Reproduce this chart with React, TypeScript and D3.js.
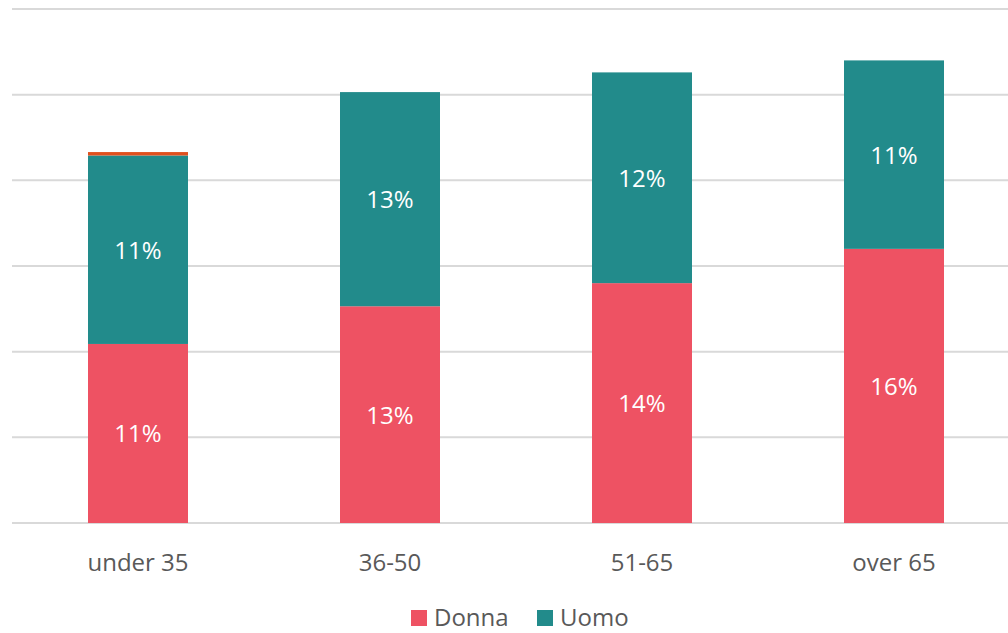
import React from "react";
import * as d3 from "d3";

const categories = ["under 35", "36-50", "51-65", "over 65"];
const donna = [10.45, 12.65, 14.0, 16.0];
const uomo = [11.0, 12.5, 12.3, 11.0];
const altro = [0.2, 0, 0, 0];
const donnaLabels = ["11%", "13%", "14%", "16%"];
const uomoLabels = ["11%", "13%", "12%", "11%"];
const yTicks = [0, 5, 10, 15, 20, 25, 30];

const W = 1008;
const H = 633;
const FONT = "'Open Sans', sans-serif";
const C_DONNA = "#EE5263";
const C_UOMO = "#228B8B";
const C_ALTRO = "#E0501E";

export default function App() {
  const x = d3
    .scaleBand<string>()
    .domain(categories)
    .range([12, 1020])
    .paddingInner(0.6032)
    .paddingOuter(0.3016);
  const y = d3.scaleLinear().domain([0, 30]).range([523, 9]);
  const bw = x.bandwidth();

  return (
    <div style={{ position: "fixed", left: 0, top: 0 }}>
      <svg width={W} height={H} style={{ display: "block", background: "#fff" }}>
        {yTicks.map((t) => (
          <line
            key={t}
            x1={12}
            x2={W}
            y1={y(t)}
            y2={y(t)}
            stroke="#d9d9d9"
            strokeWidth={2}
          />
        ))}
        {categories.map((c, i) => {
          const x0 = x(c)!;
          const d0 = y(0);
          const d1 = y(donna[i]);
          const u1 = y(donna[i] + uomo[i]);
          const a1 = y(donna[i] + uomo[i] + altro[i]);
          return (
            <g key={c}>
              <rect x={x0} y={d1} width={bw} height={d0 - d1} fill={C_DONNA} />
              <rect x={x0} y={u1} width={bw} height={d1 - u1} fill={C_UOMO} />
              {altro[i] > 0 && (
                <rect x={x0} y={a1} width={bw} height={u1 - a1} fill={C_ALTRO} />
              )}
              <text
                x={x0 + bw / 2}
                y={(d0 + d1) / 2 + 9}
                textAnchor="middle"
                fill="#fff"
                fontFamily={FONT}
                fontSize={24}
              >
                {donnaLabels[i]}
              </text>
              <text
                x={x0 + bw / 2}
                y={(d1 + u1) / 2 + 9}
                textAnchor="middle"
                fill="#fff"
                fontFamily={FONT}
                fontSize={24}
              >
                {uomoLabels[i]}
              </text>
              <text
                x={x0 + bw / 2}
                y={571}
                textAnchor="middle"
                fill="#595959"
                fontFamily={FONT}
                fontSize={24}
              >
                {c}
              </text>
            </g>
          );
        })}
        <g fontFamily={FONT} fontSize={24} fill="#595959">
          <rect x={411} y={610} width={16} height={16} fill={C_DONNA} />
          <text x={434} y={626}>Donna</text>
          <rect x={537} y={610} width={16} height={16} fill={C_UOMO} />
          <text x={560} y={626}>Uomo</text>
        </g>
      </svg>
    </div>
  );
}
